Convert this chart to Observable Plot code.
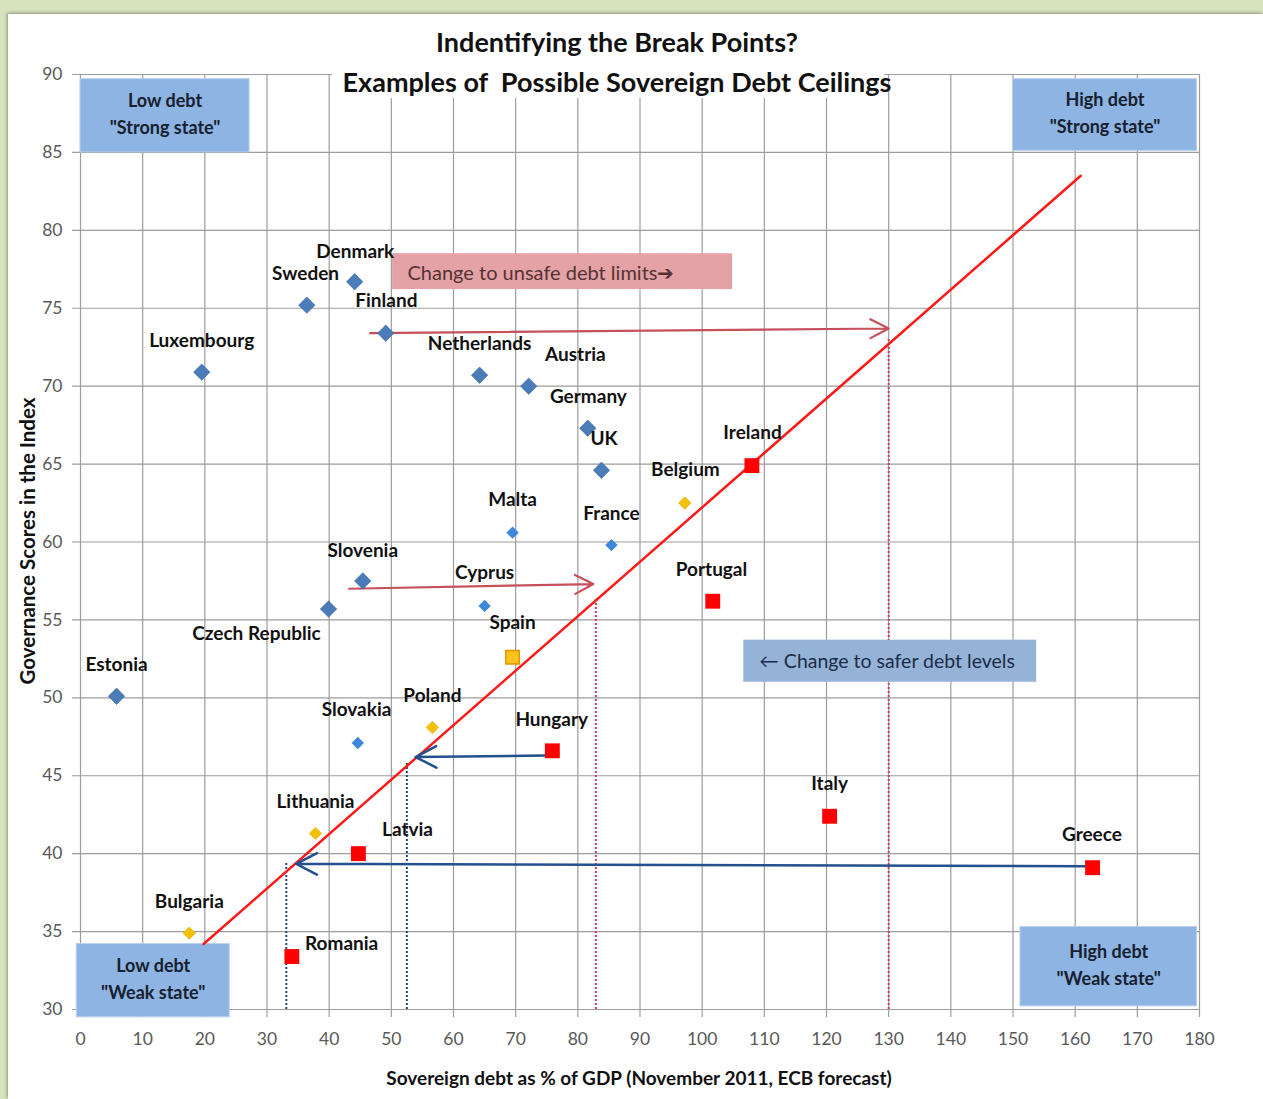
<!DOCTYPE html>
<html>
<head>
<meta charset="utf-8">
<script src="https://cdn.jsdelivr.net/npm/d3@7"></script>
<script src="https://cdn.jsdelivr.net/npm/@observablehq/plot@0.6"></script>
<style>
  html, body { margin: 0; padding: 0; }
  body { width: 1263px; height: 1099px; background: #d6e3bc; position: relative; overflow: hidden; font-family: Lato, "Open Sans", sans-serif; }
  #panel { position: absolute; left: 8px; top: 14px; width: 1255px; height: 1085px; background: #fff; box-shadow: -1px -1px 3px rgba(0,0,0,0.35); }
  #chart { position: absolute; left: 0; top: 0; }
  .title { position: absolute; left: 217px; width: 800px; text-align: center; font-weight: bold; color: #111; font-size: 27px; line-height: 30px; white-space: pre; }
  #t1 { top: 27px; }
  #t2bg { position: absolute; left: 332px; top: 62px; width: 552px; height: 36px; background: #fff; }
  #t2 { top: 67px; }
  #ylab { position: absolute; left: 27px; top: 541px; transform: translate(-50%, -50%) rotate(-90deg); font-weight: bold; font-size: 20.5px; color: #111; white-space: nowrap; }
  #xlab { position: absolute; left: 639px; top: 1077px; transform: translate(-50%, -50%); font-weight: bold; font-size: 19px; color: #111; white-space: nowrap; }
</style>
</head>
<body>
<div id="panel"></div>
<div id="chart"></div>
<div class="title" id="t1">Indentifying the Break Points?</div>
<div id="t2bg"></div>
<div class="title" id="t2">Examples of  Possible Sovereign Debt Ceilings</div>
<div id="ylab">Governance Scores in the Index</div>
<div id="xlab">Sovereign debt as % of GDP (November 2011, ECB forecast)</div>
<script>
// ---- data ----
const countries = ["Denmark","Sweden","Finland","Luxembourg","Netherlands","Austria","Germany","UK","Belgium","Ireland","Malta","France","Slovenia","Cyprus","Czech Republic","Portugal","Spain","Estonia","Poland","Slovakia","Hungary","Italy","Lithuania","Latvia","Greece","Bulgaria","Romania"];
const debt = [44.1,36.4,49.1,19.5,64.2,72.1,81.6,83.8,97.2,108.0,69.5,85.4,45.4,65.0,39.9,101.7,69.5,5.8,56.6,44.6,75.9,120.5,37.8,44.7,162.8,17.5,34.0];
const governance = [76.7,75.2,73.4,70.9,70.7,70.0,67.3,64.6,62.5,64.9,60.6,59.8,57.5,55.9,55.7,56.2,52.6,50.1,48.1,47.1,46.6,42.4,41.3,40.0,39.1,34.9,33.4];
const group = ["core","core","core","core","core","core","core","core","watch","risk","mid","mid","core","mid","core","risk","spain","core","watch","mid","risk","risk","watch","risk","risk","watch","risk"];
const labelX = [44.2,36.2,49.2,19.5,64.2,79.6,81.7,84.2,97.3,108.1,69.5,85.4,45.4,65.0,28.3,101.5,69.5,5.8,56.6,44.4,75.8,120.5,37.8,52.6,162.7,17.5,42.0];
const labelY = [78.6,77.2,75.5,72.9,72.7,72.0,69.3,66.6,64.6,67.0,62.7,61.8,59.4,58.0,54.1,58.2,54.8,52.1,50.1,49.2,48.6,44.5,43.3,41.5,41.2,36.9,34.2];

const xTicks = d3.range(0, 181, 10);
const yTicks = d3.range(30, 91, 5);

// break-point line
const trendX = [19.8, 160.9];
const trendY = [34.2, 83.5];

// arrows
const redArrowX1 = [46.6, 43.2], redArrowY1 = [73.4, 57.0], redArrowX2 = [130, 82.5], redArrowY2 = [73.7, 57.3];
const blueArrowX1 = [74.8, 162.2], blueArrowY1 = [46.3, 39.2], blueArrowX2 = [53.9, 34.7], blueArrowY2 = [46.2, 39.35];

// dotted ceilings
const redDotX = [82.9, 130], redDotTop = [56.4, 73.1];
const blueDotX = [33.1, 52.5], blueDotTop = [39.4, 45.8];

// quadrant boxes
const boxText = ["Low debt\n\"Strong state\"", "High debt\n\"Strong state\"", "Low debt\n\"Weak state\"", "High debt\n\"Weak state\""];
const boxX1 = [0, 150.0, -0.6, 151.2], boxX2 = [27.2, 179.6, 24.0, 179.6];
const boxY1 = [85.0, 85.1, 29.5, 30.2], boxY2 = [89.7, 89.7, 34.2, 35.3];

// notes
const noteText = ["Change to unsafe debt limits\u2794", "\u2190 Change to safer debt levels"];
const noteX1 = [50.2, 106.7], noteX2 = [104.9, 153.8], noteY1 = [76.2, 51.0], noteY2 = [78.5, 53.7];
const noteTx = [52.6, 109.2], noteTy = [77.2, 52.3];

// ---- tables ----
const table = countries.map((c, i) => ({country: c, x: debt[i], y: governance[i], group: group[i], lx: labelX[i], ly: labelY[i]}));
const trend = trendX.map((x, i) => ({x, y: trendY[i]}));
const redArrows = redArrowX1.map((x1, i) => ({x1, y1: redArrowY1[i], x2: redArrowX2[i], y2: redArrowY2[i]}));
const blueArrows = blueArrowX1.map((x1, i) => ({x1, y1: blueArrowY1[i], x2: blueArrowX2[i], y2: blueArrowY2[i]}));
const redDots = redDotX.map((x, i) => ({x, y1: 30, y2: redDotTop[i]}));
const blueDots = blueDotX.map((x, i) => ({x, y1: 30, y2: blueDotTop[i]}));
const boxes = boxText.map((t, i) => ({text: t, x1: boxX1[i], x2: boxX2[i], y1: boxY1[i], y2: boxY2[i]}));
const notes = noteText.map((t, i) => ({text: t, x1: noteX1[i], x2: noteX2[i], y1: noteY1[i], y2: noteY2[i], tx: noteTx[i], ty: noteTy[i]}));

const byGroup = g => table.filter(d => d.group === g);

const chart = Plot.plot({
  width: 1263,
  height: 1099,
  marginLeft: 80,
  marginRight: 64,
  marginTop: 74,
  marginBottom: 90,
  style: {background: "transparent", fontFamily: "Lato, 'Open Sans', sans-serif", fontSize: "17.5px", color: "#595959", overflow: "visible"},
  x: {domain: [0, 180], ticks: xTicks, tickSize: 0, tickPadding: 23, label: null, tickFormat: d => d},
  y: {domain: [30, 90], ticks: yTicks, tickSize: 0, tickPadding: 18, label: null, tickFormat: d => d},
  marks: [
    Plot.ruleX(xTicks, {stroke: "#9c9c9c", strokeWidth: 1.2, insetBottom: -8}),
    Plot.ruleY(yTicks, {stroke: "#9c9c9c", strokeWidth: 1.2, insetLeft: -8}),
    Plot.ruleX(redDots, {x: "x", y1: "y1", y2: "y2", stroke: "#d23c5a", strokeWidth: 2, strokeDasharray: "2,2"}),
    Plot.ruleX(blueDots, {x: "x", y1: "y1", y2: "y2", stroke: "#1f497d", strokeWidth: 2, strokeDasharray: "2,2"}),
    Plot.rect(boxes, {x1: "x1", x2: "x2", y1: "y1", y2: "y2", fill: "#8db4e2", stroke: "#b9d0ec", strokeWidth: 1}),
    Plot.text(boxes, {x: d => (d.x1 + d.x2) / 2, y: d => (d.y1 + d.y2) / 2, text: "text", fontWeight: "bold", fontSize: 18, lineHeight: 1.5, dy: -4, fill: "#17202e"}),
    Plot.rect(notes.slice(0, 1), {x1: "x1", x2: "x2", y1: "y1", y2: "y2", fill: "#e4a2a7"}),
    Plot.rect(notes.slice(1), {x1: "x1", x2: "x2", y1: "y1", y2: "y2", fill: "#95b3d7"}),
    Plot.text(notes.slice(0, 1), {x: "tx", y: "ty", text: "text", textAnchor: "start", fontSize: 20, fill: "#553232"}),
    Plot.text(notes.slice(1), {x: "tx", y: "ty", text: "text", textAnchor: "start", fontSize: 19.5, fill: "#1c2c48"}),
    Plot.line(trend, {x: "x", y: "y", stroke: "#ff1a1a", strokeWidth: 2.5}),
    Plot.arrow(redArrows, {x1: "x1", y1: "y1", x2: "x2", y2: "y2", stroke: "#c6505a", strokeWidth: 2.2, headLength: 14, headAngle: 55}),
    Plot.arrow(blueArrows, {x1: "x1", y1: "y1", x2: "x2", y2: "y2", stroke: "#24508e", strokeWidth: 2.5, headLength: 14, headAngle: 55}),
    Plot.dot(byGroup("core"), {x: "x", y: "y", symbol: "diamond2", r: 7.4, fill: "#4a7cb9", stroke: "#3a68a0", strokeWidth: 0.6}),
    Plot.dot(byGroup("mid"), {x: "x", y: "y", symbol: "diamond2", r: 5.6, fill: "#3d88d8"}),
    Plot.dot(byGroup("watch"), {x: "x", y: "y", symbol: "diamond2", r: 5.6, fill: "#f2c200", stroke: "#e0a800", strokeWidth: 0.6}),
    Plot.dot(byGroup("spain"), {x: "x", y: "y", symbol: "square", r: 7.6, fill: "#ffc21a", stroke: "#e39400", strokeWidth: 1.5}),
    Plot.dot(byGroup("risk"), {x: "x", y: "y", symbol: "square", r: 8.4, fill: "#ff0000"}),
    Plot.text(table, {x: "lx", y: "ly", text: "country", fontWeight: "bold", fontSize: 19, fill: "#111"})
  ]
});
document.getElementById("chart").appendChild(chart);
</script>
</body>
</html>
